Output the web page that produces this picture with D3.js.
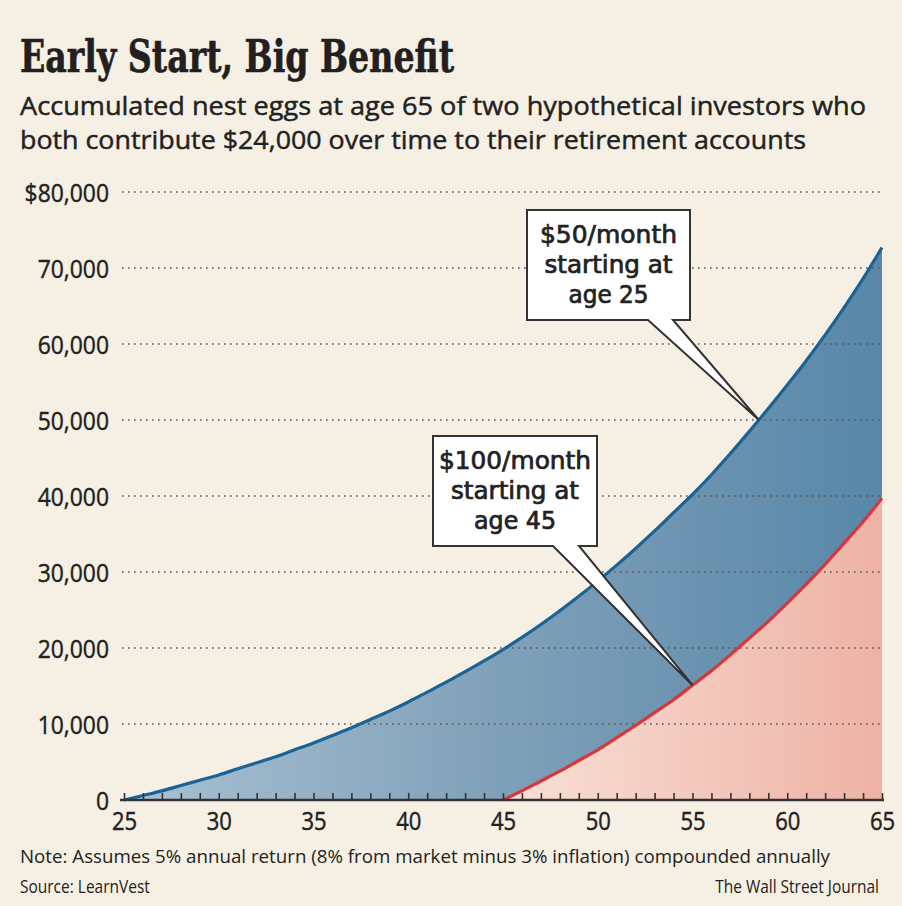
<!DOCTYPE html>
<html>
<head>
<meta charset="utf-8">
<script src="https://cdn.jsdelivr.net/npm/d3@7"></script>
<style>
  html, body { margin: 0; padding: 0; background: #f6f0e4; }
  svg { display: block; }
  .sans { font-family: "Open Sans", "Noto Sans", sans-serif; fill: #222; }
  .med { stroke: #222; stroke-width: 0.45px; }
  .cond { font-family: "DejaVu Sans Condensed", "DejaVu Sans", sans-serif; fill: #222; stroke: #222; stroke-width: 0.7px; }
</style>
</head>
<body>
<svg id="chart"></svg>
<script>
// chart data
const ages = d3.range(25, 66);
const earlyValues = [0, 600, 1200, 1900, 2600, 3300, 4100, 4900, 5700, 6600,
  7500, 8500, 9500, 10600, 11700, 12900, 14200, 15500, 16900, 18300,
  19800, 21400, 23100, 24900, 26800, 28800, 30900, 33100, 35400, 37800,
  40200, 42800, 45600, 48500, 51500, 54600, 57800, 61200, 64800, 68600, 72700];
const lateAges = d3.range(45, 66);
const lateValues = [0, 1200, 2500, 3800, 5200, 6600, 8200, 9800, 11500, 13200,
  15100, 17000, 19100, 21300, 23500, 25900, 28400, 31000, 33800, 36600, 39700];
const yTicks = [0, 10000, 20000, 30000, 40000, 50000, 60000, 70000, 80000];
const xTickLabels = [25, 30, 35, 40, 45, 50, 55, 60, 65];

const title = "Early Start, Big Benefit";
const subtitle = ["Accumulated nest eggs at age 65 of two hypothetical investors who",
  "both contribute $24,000 over time to their retirement accounts"];
const note = "Note: Assumes 5% annual return (8% from market minus 3% inflation) compounded annually";
const source = "Source: LearnVest";
const credit = "The Wall Street Journal";

// callouts: text lines and the point on a curve they point at
const callouts = [
  { lines: ["$50/month", "starting at", "age 25"], age: 58.5, value: 50000 },
  { lines: ["$100/month", "starting at", "age 45"], age: 55, value: 15100 }
];

const W = 902, H = 906;
const svg = d3.select("#chart").attr("width", W).attr("height", H);

svg.append("rect").attr("width", W).attr("height", H).attr("fill", "#f6f0e4");

const x = d3.scaleLinear().domain([25, 65]).range([124, 882]);
const y = d3.scaleLinear().domain([0, 80000]).range([800, 192]);

// squeeze a text to a given fraction of its natural width
function condense(sel, factor) {
  sel.each(function() {
    const w = this.getComputedTextLength();
    d3.select(this).attr("textLength", w * factor).attr("lengthAdjust", "spacingAndGlyphs");
  });
}

// --- headings
svg.append("text")
  .attr("x", 20).attr("y", 72)
  .attr("font-family", "'DejaVu Serif Condensed', 'DejaVu Serif', serif")
  .attr("font-weight", "bold").attr("font-size", 44)
  .attr("fill", "#231f20").attr("stroke", "#231f20").attr("stroke-width", 0.6)
  .attr("textLength", 434).attr("lengthAdjust", "spacingAndGlyphs")
  .text(title);

svg.selectAll(".sub").data(subtitle).join("text")
  .attr("class", "sub sans med")
  .attr("x", 20).attr("y", (d, i) => 115 + i * 34)
  .attr("font-size", 25)
  .attr("textLength", (d, i) => i === 0 ? 846 : 786)
  .attr("lengthAdjust", "spacingAndGlyphs")
  .text(d => d);

// --- gradients
const defs = svg.append("defs");
const gBlue = defs.append("linearGradient").attr("id", "gBlue")
  .attr("gradientUnits", "userSpaceOnUse")
  .attr("x1", x(25)).attr("x2", x(65)).attr("y1", 0).attr("y2", 0);
gBlue.append("stop").attr("offset", 0).attr("stop-color", "#a9c1d2");
gBlue.append("stop").attr("offset", 0.5).attr("stop-color", "#7fa0b9");
gBlue.append("stop").attr("offset", 1).attr("stop-color", "#5887a8");

const gRed = defs.append("linearGradient").attr("id", "gRed")
  .attr("gradientUnits", "userSpaceOnUse")
  .attr("x1", x(45)).attr("x2", x(65)).attr("y1", 0).attr("y2", 0);
gRed.append("stop").attr("offset", 0).attr("stop-color", "#f8e0d7");
gRed.append("stop").attr("offset", 1).attr("stop-color", "#eeb2a5");

// --- areas
const early = ages.map((a, i) => ({ age: a, value: earlyValues[i] }));
const late = lateAges.map((a, i) => ({ age: a, value: lateValues[i] }));

const area = d3.area().curve(d3.curveMonotoneX)
  .x(d => x(d.age)).y0(y(0)).y1(d => y(d.value));
const line = d3.line().curve(d3.curveMonotoneX)
  .x(d => x(d.age)).y(d => y(d.value));

svg.append("path").datum(early).attr("d", area).attr("fill", "url(#gBlue)");
svg.append("path").datum(late).attr("d", area).attr("fill", "url(#gRed)");

// --- gridlines (dotted, drawn over the areas)
svg.append("g").selectAll("line").data(yTicks.filter(d => d > 0)).join("line")
  .attr("x1", x(25) - 2).attr("x2", x(65))
  .attr("y1", d => y(d)).attr("y2", d => y(d))
  .attr("stroke", "#555").attr("stroke-width", 1.6)
  .attr("stroke-dasharray", "1.6,4.4");

svg.append("path").datum(early).attr("d", line)
  .attr("fill", "none").attr("stroke", "#1a6396").attr("stroke-width", 3.2);
svg.append("path").datum(late).attr("d", line)
  .attr("fill", "none").attr("stroke", "#d8363a").attr("stroke-width", 3.2);

// --- axes
const yAxis = svg.append("g")
  .attr("transform", `translate(${x(25)},0)`)
  .call(d3.axisLeft(y).tickValues(yTicks).tickSize(0).tickPadding(15)
    .tickFormat(d => d === 80000 ? "$80,000" : d3.format(",")(d)));
yAxis.select(".domain").remove();
yAxis.selectAll("text")
  .attr("class", "sans med").attr("font-size", 26)
  .attr("fill", "#222").attr("dy", "0.35em")
  .call(condense, 0.88);

const xAxis = svg.append("g")
  .attr("transform", `translate(0,${y(0)})`)
  .call(d3.axisBottom(x).tickValues(ages).tickSize(-7).tickPadding(12)
    .tickFormat(d => xTickLabels.includes(d) ? d : ""));
xAxis.select(".domain")
  .attr("d", `M${x(25) - 4},0H${x(65) + 2}`)
  .attr("stroke", "#333").attr("stroke-width", 2.4);
xAxis.selectAll(".tick line").attr("stroke", "#333").attr("stroke-width", 1.6);
xAxis.selectAll("text")
  .attr("class", "sans med").attr("font-size", 25)
  .attr("fill", "#222")
  .call(condense, 0.88);

// --- callouts (box geometry in pixels, tip on the curve via the scales)
const boxes = [
  { x0: 527, x1: 690, y0: 210, y1: 320, b0: 648, b1: 673, widths: [137, 128, 80] },
  { x0: 433, x1: 597, y0: 436, y1: 546, b0: 553, b1: 579, widths: [152, 128, 82] }
];
callouts.forEach((c, i) => {
  const b = boxes[i];
  const tx = x(c.age), ty = y(c.value);
  svg.append("path")
    .attr("d", `M${b.x0},${b.y0}H${b.x1}V${b.y1}H${b.b1}L${tx},${ty}L${b.b0},${b.y1}H${b.x0}Z`)
    .attr("fill", "#fff").attr("stroke", "#333").attr("stroke-width", 2)
    .attr("stroke-linejoin", "miter");
  const cx = (b.x0 + b.x1) / 2;
  svg.append("g").selectAll("text").data(c.lines).join("text")
    .attr("class", "cond")
    .attr("x", cx).attr("y", (d, j) => b.y0 + 33 + j * 30)
    .attr("text-anchor", "middle")
    .attr("font-size", 25)
    .attr("textLength", (d, j) => b.widths[j])
    .attr("lengthAdjust", "spacingAndGlyphs")
    .text(d => d);
});

// --- footer
svg.append("text").attr("class", "sans")
  .attr("x", 20).attr("y", 863).attr("font-size", 18)
  .attr("textLength", 810).attr("lengthAdjust", "spacingAndGlyphs")
  .text(note);
svg.append("text").attr("class", "sans")
  .attr("x", 20).attr("y", 893).attr("font-size", 18)
  .text(source).call(condense, 0.86);
// right-aligned credit, narrowed with a transform
svg.append("text").attr("class", "sans")
  .attr("transform", "translate(879,893) scale(0.86,1)")
  .attr("text-anchor", "end").attr("font-size", 18)
  .text(credit);
</script>
</body>
</html>
